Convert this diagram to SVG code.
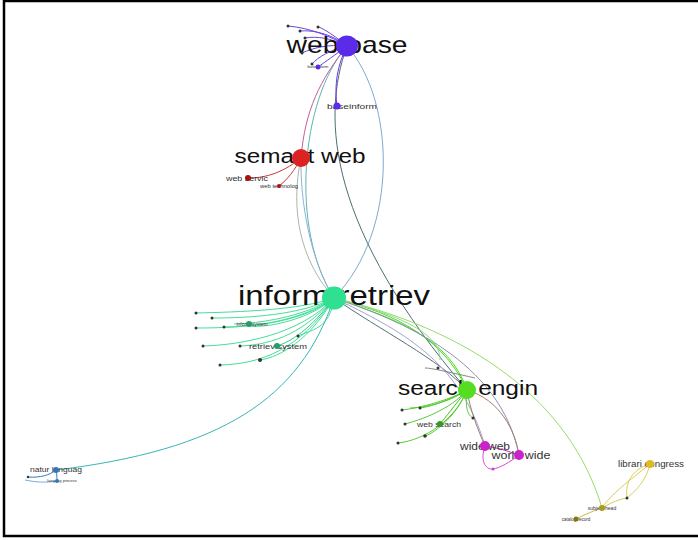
<svg xmlns="http://www.w3.org/2000/svg" width="698" height="540" viewBox="0 0 698 540">
<style>
.e{fill:none;stroke-width:1}
.big{font-family:"Liberation Sans",Arial,sans-serif;fill:#111}
.sm{font-family:"Liberation Sans",Arial,sans-serif;fill:#333}
.tn{fill:#333;stroke:none}
</style>
<rect width="698" height="540" fill="#fff"/>
<rect x="4" y="1" width="700" height="535" fill="none" stroke="#000" stroke-width="2.5"/>
<g id="connectors">
 <path class="e" d="M347,46 C395,100 400,230 334,298" stroke="#7fa8cf"/>
 <path class="e" d="M347,46 C320,120 330,230 467,390" stroke="#4a6f6f"/>
 <path class="e" d="M347,46 C300,100 290,230 334,298" stroke="#5eb3b0"/>
 <path class="e" d="M347,46 C320,80 305,110 301,158" stroke="#c0609a"/>
 <path class="e" d="M347,46 C335,70 335,90 337,106" stroke="#6633ee" stroke-width="2"/>
 <path class="e" d="M347,46 C330,36 310,28 288,26" stroke="#6a45e0" stroke-width="1.2"/>
 <path class="e" d="M347,46 C330,33 312,30 300,31" stroke="#6a45e0"/>
 <path class="e" d="M347,46 C330,38 318,36 305,38" stroke="#6a45e0"/>
 <path class="e" d="M347,46 C328,44 313,48 302,53" stroke="#6a45e0"/>
 <path class="e" d="M347,46 C330,50 318,57 312,64" stroke="#6a45e0"/>
 <path class="e" d="M347,46 C335,55 325,62 318,67" stroke="#6a45e0"/>
 <path class="e" d="M347,46 C330,32 320,27 318,27" stroke="#6a45e0"/>
 <path class="e" d="M301,158 C280,175 262,178 248,178" stroke="#cc3333" stroke-width="1.3"/>
 <path class="e" d="M301,158 C295,170 287,180 279,186" stroke="#cc3333" stroke-width="1.3"/>
 <path class="e" d="M301,158 C290,210 300,260 334,298" stroke="#a8b8a8"/>
 <path class="e" d="M301,158 C300,200 310,260 334,298" stroke="#8cb3d6"/>
 <path class="e" d="M334,298 C300,310 240,312 196,313" stroke="#44dd99"/>
 <path class="e" d="M334,298 C300,315 250,318 212,318" stroke="#44dd99"/>
 <path class="e" d="M334,298 C300,318 260,323 234,324" stroke="#44dd99" stroke-width="1.5"/>
 <path class="e" d="M334,298 C300,322 250,327 224,327" stroke="#44dd99"/>
 <path class="e" d="M334,298 C305,323 260,328 249,326" stroke="#44dd99"/>
 <path class="e" d="M334,298 C300,325 240,328 196,328" stroke="#44dd99"/>
 <path class="e" d="M334,298 C300,335 240,345 203,346" stroke="#44dd99"/>
 <path class="e" d="M334,298 C310,330 290,342 277,346" stroke="#33cc88" stroke-width="2"/>
 <path class="e" d="M334,298 C300,338 265,345 240,346" stroke="#44dd99"/>
 <path class="e" d="M334,298 C310,340 280,357 260,360" stroke="#44dd99" stroke-width="1.5"/>
 <path class="e" d="M334,298 C300,350 260,364 220,365" stroke="#44dd99"/>
 <path class="e" d="M334,298 C330,330 310,330 298,336" stroke="#44dd99"/>
 <path class="e" d="M334,298 C340,300 344,302 347,305" stroke="#44dd99"/>
 <path class="e" d="M334,298 C300,400 220,450 56,470" stroke="#3bb5b5" stroke-width="1.3"/>
 <path class="e" d="M334,298 C380,310 440,330 467,390" stroke="#44dd22" stroke-width="2"/>
 <path class="e" d="M334,298 C400,320 450,340 467,390" stroke="#44dd22" stroke-width="1.3"/>
 <path class="e" d="M334,298 C380,330 440,360 467,390" stroke="#556f7a" stroke-width="1"/>
 <path class="e" d="M334,298 C400,330 460,360 485,446" stroke="#a8a0d0"/>
 <path class="e" d="M334,298 C400,320 500,360 519,455" stroke="#9090b0"/>
 <path class="e" d="M334,298 C470,330 570,400 602,508" stroke="#99dd66"/>
 <path class="e" d="M334,298 C420,320 440,340 440,360" stroke="#8fd88f"/>
 <path class="e" d="M467,390 C450,400 420,408 402,410" stroke="#55cc33" stroke-width="1.3"/>
 <path class="e" d="M467,390 C450,400 430,407 420,408" stroke="#55cc33"/>
 <path class="e" d="M467,390 C450,402 425,408 410,408" stroke="#55cc33"/>
 <path class="e" d="M467,390 C455,405 445,418 440,424" stroke="#44bb22" stroke-width="2"/>
 <path class="e" d="M467,390 C450,410 420,420 405,424" stroke="#55cc33"/>
 <path class="e" d="M467,390 C455,420 430,435 425,436" stroke="#55cc33" stroke-width="1.3"/>
 <path class="e" d="M467,390 C455,420 425,440 398,443" stroke="#55cc33"/>
 <path class="e" d="M467,390 C465,410 468,415 473,418" stroke="#55cc33"/>
 <path class="e" d="M467,390 C470,410 478,430 485,446" stroke="#a08070"/>
 <path class="e" d="M467,390 C500,400 515,430 519,455" stroke="#a08070"/>
 <path class="e" d="M475,378 C440,370 430,368 425,368" stroke="#888"/>
 <path class="e" d="M485,446 C500,448 510,452 519,455" stroke="#cc22cc" stroke-width="4"/>
 <path class="e" d="M485,446 C480,460 485,470 493,469" stroke="#dd44dd"/>
 <path class="e" d="M519,455 C510,462 500,468 493,469" stroke="#dd44dd"/>
 <path class="e" d="M650,464 C630,480 610,495 602,508" stroke="#ddcc55" stroke-width="1.3"/>
 <path class="e" d="M650,464 C645,485 630,495 627,498" stroke="#ddcc55"/>
 <path class="e" d="M650,464 C630,470 625,485 627,498" stroke="#ddcc55"/>
 <path class="e" d="M627,498 C615,500 608,505 602,508" stroke="#ddcc55"/>
 <path class="e" d="M602,508 C590,512 580,517 576,519" stroke="#ccbb44" stroke-width="1.3"/>
 <path class="e" d="M56,470 C50,475 40,478 28,477" stroke="#3377bb"/>
 <path class="e" d="M56,470 C57,475 57,478 57,481" stroke="#3377bb" stroke-width="2"/>
 <path class="e" d="M57,481 C45,483 35,482 25,480" stroke="#77aadd"/>
</g>
<g id="n_web_base">
 <text class="big" x="347" y="53" font-size="24" text-anchor="middle" textLength="121" lengthAdjust="spacingAndGlyphs">web base</text>
 <ellipse cx="347" cy="46" rx="11" ry="10.5" fill="#5a2be8"/>
</g>
<g id="n_web_base_leaves">
 <circle cx="288" cy="26" r="1.5" class="tn"/><circle cx="300" cy="31" r="1.5" class="tn"/>
 <circle cx="318" cy="27" r="1.5" class="tn"/><circle cx="305" cy="38" r="1.5" class="tn"/>
 <circle cx="302" cy="53" r="1.5" class="tn"/><circle cx="312" cy="64" r="1.5" class="tn"/>
 <text class="sm" x="318" y="68" font-size="4" text-anchor="middle">base inform</text>
 <circle cx="318" cy="67" r="2.5" fill="#5a2be8"/>
</g>
<g id="n_base_inform">
 <text class="sm" x="352" y="109" font-size="8" text-anchor="middle" textLength="50" lengthAdjust="spacingAndGlyphs">baseinform</text>
 <circle cx="337" cy="106" r="3.5" fill="#5a2be8"/>
</g>
<g id="n_semant_web">
 <text class="big" x="300" y="163" font-size="20" text-anchor="middle" textLength="131" lengthAdjust="spacingAndGlyphs">semant web</text>
 <circle cx="301" cy="158" r="9" fill="#dd2222"/>
</g>
<g id="n_web_servic">
 <text class="sm" x="247" y="181" font-size="7" text-anchor="middle" textLength="42" lengthAdjust="spacingAndGlyphs">web servic</text>
 <circle cx="248" cy="178" r="3" fill="#aa1111"/>
</g>
<g id="n_web_technolog">
 <text class="sm" x="279" y="188" font-size="5" text-anchor="middle" textLength="38" lengthAdjust="spacingAndGlyphs">web technolog</text>
 <circle cx="279" cy="186" r="2" fill="#aa1111"/>
</g>
<g id="n_inform_retriev">
 <text class="big" x="334" y="305" font-size="27" text-anchor="middle" textLength="192" lengthAdjust="spacingAndGlyphs">inform retriev</text>
 <ellipse cx="334" cy="298" rx="12" ry="11.5" fill="#2ee08f"/>
</g>
<g id="n_ir_leaves">
 <circle cx="196" cy="313" r="1.5" class="tn"/><circle cx="212" cy="318" r="1.5" class="tn"/>
 <circle cx="196" cy="328" r="1.5" class="tn"/><circle cx="224" cy="327" r="1.5" class="tn"/>
 <circle cx="203" cy="346" r="1.5" class="tn"/><circle cx="240" cy="346" r="1.5" class="tn"/>
 <circle cx="260" cy="360" r="2" class="tn"/><circle cx="220" cy="365" r="1.5" class="tn"/>
 <circle cx="298" cy="336" r="1.5" class="tn"/>
 <text class="sm" x="252" y="326" font-size="5" text-anchor="middle">inform system</text>
 <circle cx="249" cy="324" r="3" fill="#2a9a66"/>
</g>
<g id="n_retriev_system">
 <text class="sm" x="278" y="349" font-size="8" text-anchor="middle" textLength="58" lengthAdjust="spacingAndGlyphs">retriev system</text>
 <circle cx="277" cy="346" r="3" fill="#2a9a66"/>
</g>
<g id="n_search_engin">
 <text class="big" x="468" y="395" font-size="20" text-anchor="middle" textLength="140" lengthAdjust="spacingAndGlyphs">search engin</text>
 <circle cx="467" cy="390" r="9" fill="#55dd22"/>
</g>
<g id="n_se_leaves">
 <circle cx="402" cy="410" r="1.5" class="tn"/><circle cx="420" cy="408" r="1.5" class="tn"/>
 <circle cx="405" cy="424" r="1.5" class="tn"/><circle cx="425" cy="436" r="1.8" class="tn"/>
 <circle cx="398" cy="443" r="1.5" class="tn"/><circle cx="473" cy="418" r="1.5" class="tn"/>
 <circle cx="438" cy="368" r="1.5" class="tn"/>
</g>
<g id="n_web_search">
 <text class="sm" x="439" y="427" font-size="8" text-anchor="middle" textLength="44" lengthAdjust="spacingAndGlyphs">web search</text>
 <circle cx="440" cy="424" r="3" fill="#339922"/>
</g>
<g id="n_wide_web">
 <text class="sm" x="485" y="450" font-size="11" text-anchor="middle" textLength="50" lengthAdjust="spacingAndGlyphs">wide web</text>
 <circle cx="485" cy="446" r="5" fill="#cc22cc"/>
</g>
<g id="n_world_wide">
 <text class="sm" x="521" y="459" font-size="11" text-anchor="middle" textLength="59" lengthAdjust="spacingAndGlyphs">world wide</text>
 <circle cx="519" cy="455" r="5" fill="#cc22cc"/>
 <circle cx="493" cy="469" r="1.5" fill="#cc44cc"/>
</g>
<g id="n_natur_languag">
 <text class="sm" x="56" y="472" font-size="6.5" text-anchor="middle" textLength="52" lengthAdjust="spacingAndGlyphs">natur languag</text>
 <circle cx="56" cy="470" r="3" fill="#3377bb"/>
 <text class="sm" x="62" y="482" font-size="4" text-anchor="middle" fill="#557">languag process</text>
 <circle cx="57" cy="481" r="2" fill="#3377bb"/>
 <circle cx="28" cy="477" r="1.2" class="tn"/>
</g>
<g id="n_librari_congress">
 <text class="sm" x="651" y="467" font-size="9" text-anchor="middle" textLength="66" lengthAdjust="spacingAndGlyphs">librari congress</text>
 <circle cx="650" cy="464" r="4" fill="#ddbb22"/>
 <circle cx="627" cy="498" r="1.5" class="tn"/>
</g>
<g id="n_subject_head">
 <text class="sm" x="602" y="510" font-size="5" text-anchor="middle">subject head</text>
 <circle cx="602" cy="508" r="3" fill="#aa9922"/>
 <text class="sm" x="576" y="521" font-size="4.5" text-anchor="middle">catalog record</text>
 <circle cx="576" cy="519" r="2.5" fill="#887711"/>
</g>
</svg>
